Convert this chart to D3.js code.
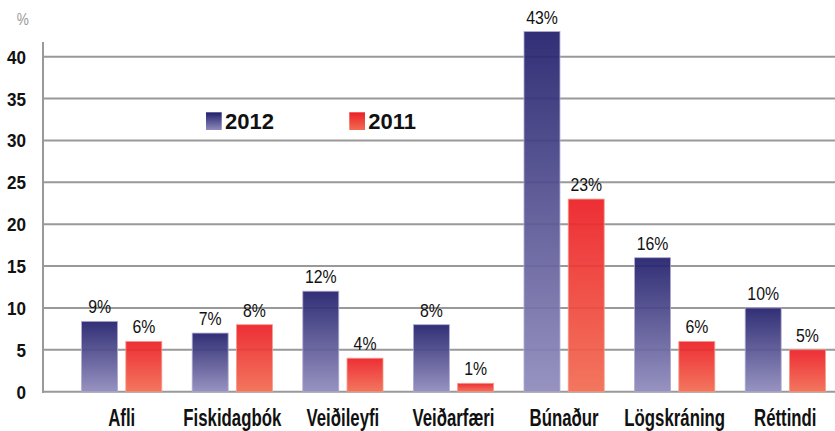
<!DOCTYPE html>
<html>
<head>
<meta charset="utf-8">
<script src="https://cdn.jsdelivr.net/npm/d3@7"></script>
<style>
  body { margin: 0; background: #fff; }
  text { font-family: "Liberation Sans", Arial, sans-serif; }
</style>
</head>
<body>
<div id="VizBox"></div>
<script>
// categories and values
var categories = ["Afli", "Fiskidagbók", "Veiðileyfi", "Veiðarfæri", "Búnaður", "Lögskráning", "Réttindi"];
var series = ["2012", "2011"];
var values2012 = [8.4, 7, 12, 8, 43, 16, 10];
var values2011 = [6, 8, 4, 1, 23, 6, 5];
var labels2012 = ["9%", "7%", "12%", "8%", "43%", "16%", "10%"];
var labels2011 = ["6%", "8%", "4%", "1%", "23%", "6%", "5%"];
var yTicks = [0, 5, 10, 15, 20, 25, 30, 35, 40];

var width = 835, height = 431;

var data = categories.map(function(c, i) {
  return {group: c, values: [
    {key: "2012", value: values2012[i], label: labels2012[i]},
    {key: "2011", value: values2011[i], label: labels2011[i]}
  ]};
});

var svg = d3.select("#VizBox")
  .append("svg")
    .attr("width", width)
    .attr("height", height);

// condensed look: squeeze text horizontally
function squeeze(px, py, s) {
  return "translate(" + px + "," + py + ") scale(" + s + ",1)";
}

// gradients
var defs = svg.append("defs");
function grad(id, top, bottom) {
  var g = defs.append("linearGradient").attr("id", id)
    .attr("x1", 0).attr("y1", 0).attr("x2", 0).attr("y2", 1);
  g.append("stop").attr("offset", "0%").attr("stop-color", top);
  g.append("stop").attr("offset", "100%").attr("stop-color", bottom);
}
grad("g2012", "#221f6c", "#8f8bbc");
grad("g2011", "#ec1f26", "#f26c52");
var fills = {"2012": "url(#g2012)", "2011": "url(#g2011)"};
var strokes = {"2012": "#aeaad0", "2011": "#f59a88"};

// scales
var x = d3.scaleBand()
  .domain(categories)
  .range([66.4, 840.6])
  .padding(0);

var xSub = d3.scaleBand()
  .domain(series)
  .range([15.2, 95.4])
  .paddingInner(0.187);

var y = d3.scaleLinear()
  .domain([0, 40])
  .range([391.7, 56.7]);

var axisX = 43;

// gridlines
svg.append("g")
  .selectAll("line")
  .data(yTicks)
  .enter()
  .append("line")
    .attr("x1", axisX)
    .attr("x2", width)
    .attr("y1", function(d) { return y(d); })
    .attr("y2", function(d) { return y(d); })
    .attr("stroke", "#999")
    .attr("stroke-width", 2);

// y axis line
svg.append("line")
  .attr("x1", axisX).attr("x2", axisX)
  .attr("y1", 42).attr("y2", 393)
  .attr("stroke", "#999")
  .attr("stroke-width", 2);

// y tick labels
svg.append("g")
  .selectAll("text")
  .data(yTicks)
  .enter()
  .append("text")
    .attr("transform", function(d) { return squeeze(26, y(d) + 7, 0.9); })
    .attr("text-anchor", "end")
    .attr("font-size", "19px")
    .attr("font-weight", "bold")
    .attr("fill", "#111")
    .text(function(d) { return d; });

svg.append("text")
  .attr("transform", squeeze(22.7, 25, 0.85))
  .attr("text-anchor", "middle")
  .attr("font-size", "16px")
  .attr("fill", "#999")
  .text("%");

// bars
var groups = svg.append("g")
  .selectAll("g")
  .data(data)
  .enter()
  .append("g")
    .attr("transform", function(d) { return "translate(" + x(d.group) + ",0)"; });

groups.selectAll("rect")
  .data(function(d) { return d.values; })
  .enter()
  .append("rect")
    .attr("x", function(d) { return xSub(d.key); })
    .attr("y", function(d) { return y(d.value); })
    .attr("width", xSub.bandwidth())
    .attr("height", function(d) { return y(0) - y(d.value); })
    .attr("fill", function(d) { return fills[d.key]; })
    .attr("fill-opacity", 0.93)
    .attr("stroke", function(d) { return strokes[d.key]; })
    .attr("stroke-width", 0.8);

// value labels
groups.selectAll("text")
  .data(function(d) { return d.values; })
  .enter()
  .append("text")
    .attr("transform", function(d) {
      return squeeze(xSub(d.key) + xSub.bandwidth() / 2, y(d.value) - 8, 0.88);
    })
    .attr("text-anchor", "middle")
    .attr("font-size", "18px")
    .attr("fill", "#111")
    .text(function(d) { return d.label; });

// category labels
svg.append("g")
  .selectAll("text")
  .data(categories)
  .enter()
  .append("text")
    .attr("transform", function(d) { return squeeze(x(d) + x.bandwidth() / 2, 425.5, 0.73); })
    .attr("text-anchor", "middle")
    .attr("font-size", "23px")
    .attr("font-weight", "bold")
    .attr("fill", "#111")
    .text(function(d) { return d; });

// legend
var legend = [
  {key: "2012", sx: 206, tx: 225},
  {key: "2011", sx: 349.3, tx: 368.3}
];
var lg = svg.append("g")
  .selectAll("g")
  .data(legend)
  .enter()
  .append("g");
lg.append("rect")
  .attr("x", function(d) { return d.sx; })
  .attr("y", 112.3)
  .attr("width", 15.7)
  .attr("height", 17.7)
  .attr("fill", function(d) { return fills[d.key]; });
lg.append("text")
  .attr("x", function(d) { return d.tx; })
  .attr("y", 129)
  .attr("font-size", "22px")
  .attr("font-weight", "bold")
  .attr("fill", "#111")
  .text(function(d) { return d.key; });
</script>
</body>
</html>
